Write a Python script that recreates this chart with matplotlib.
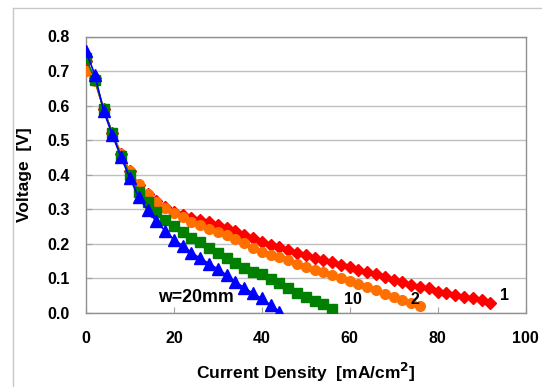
import matplotlib
matplotlib.use("Agg")
import matplotlib.pyplot as plt
from matplotlib.lines import Line2D

plt.rcParams['font.family'] = ['Liberation Sans', 'DejaVu Sans']

x_w1 = [0, 2, 4, 6, 8, 10, 12, 14, 16, 18, 20, 22, 24, 26, 28, 30, 32, 34, 36, 38,
        40, 42, 44, 46, 48, 50, 52, 54, 56, 58, 60, 62, 64, 66, 68, 70, 72, 74, 76,
        78, 80, 82, 84, 86, 88, 90, 92]
v_w1 = [0.728, 0.68, 0.59, 0.52, 0.46, 0.41, 0.37, 0.345, 0.325, 0.307, 0.293, 0.283,
        0.275, 0.268, 0.262, 0.254, 0.245, 0.236, 0.225, 0.216, 0.206, 0.197, 0.191,
        0.182, 0.174, 0.167, 0.158, 0.153, 0.147, 0.139, 0.133, 0.124, 0.119, 0.114,
        0.104, 0.096, 0.091, 0.082, 0.076, 0.071, 0.062, 0.058, 0.052, 0.047, 0.042,
        0.038, 0.030]

x_w2 = [0, 2, 4, 6, 8, 10, 12, 14, 16, 18, 20, 22, 24, 26, 28, 30, 32, 34, 36, 38,
        40, 42, 44, 46, 48, 50, 52, 54, 56, 58, 60, 62, 64, 66, 68, 70, 72, 74, 76]
v_w2 = [0.70, 0.67, 0.59, 0.52, 0.46, 0.41, 0.373, 0.345, 0.322, 0.303, 0.288, 0.277,
        0.264, 0.254, 0.244, 0.234, 0.225, 0.215, 0.202, 0.188, 0.177, 0.168, 0.161,
        0.152, 0.143, 0.134, 0.125, 0.118, 0.109, 0.100, 0.094, 0.085, 0.076, 0.066,
        0.056, 0.047, 0.038, 0.028, 0.020]

x_w10 = [0, 2, 4, 6, 8, 10, 12, 14, 16, 18, 20, 22, 24, 26, 28, 30, 32, 34, 36, 38,
         40, 42, 44, 46, 48, 50, 52, 54, 56]
v_w10 = [0.738, 0.675, 0.59, 0.52, 0.453, 0.40, 0.35, 0.32, 0.293, 0.27, 0.252, 0.234,
         0.218, 0.204, 0.188, 0.173, 0.158, 0.145, 0.131, 0.12, 0.112, 0.099, 0.086,
         0.072, 0.058, 0.046, 0.036, 0.026, 0.012]

x_w20 = [0, 2, 4, 6, 8, 10, 12, 14, 16, 18, 20, 22, 24, 26, 28, 30, 32, 34, 36, 38,
         40, 42, 44]
v_w20 = [0.757, 0.69, 0.585, 0.515, 0.45, 0.39, 0.335, 0.298, 0.265, 0.238, 0.212,
         0.195, 0.175, 0.158, 0.143, 0.127, 0.11, 0.09, 0.073, 0.057, 0.042, 0.023,
         0.004]

labels = ["1", "2", "10", "w=20mm"]
label_pos = [(94.3, 0.052), (73.8, 0.040), (58.6, 0.040), (16.5, 0.046)]
label_sizes = [11.5, 11.5, 11.5, 12.8]
x_ticks = [0, 20, 40, 60, 80, 100]
y_ticks = [0.0, 0.1, 0.2, 0.3, 0.4, 0.5, 0.6, 0.7, 0.8]

fig = plt.figure(figsize=(5.42, 3.87), dpi=100)
ax = fig.add_axes([86/542, 1-313/387, (525.5-86)/542, (313-36.5)/387])

ms = 7
ax.plot(x_w1, v_w1, color='#ff0000', marker='D', markersize=ms*0.9, lw=1.2, zorder=3)
ax.plot(x_w2, v_w2, color='#ff7000', marker='o', markersize=ms, lw=1.2, zorder=4)
ax.plot(x_w10, v_w10, color='#008000', marker='s', markersize=ms*0.95, lw=1.2, zorder=5)
ax.plot(x_w20, v_w20, color='#0000ff', marker='^', markersize=ms*1.15, lw=1.2, zorder=6)

for lab, (px, py), fs in zip(labels, label_pos, label_sizes):
    ax.text(px, py, lab, fontsize=fs, fontweight='bold', ha='left', va='center', zorder=7)

ax.set_xlim(0, 100)
ax.set_ylim(0, 0.8)
ax.set_xticks(x_ticks)
ax.set_yticks(y_ticks)
ax.set_yticklabels([f"{v:.1f}" for v in y_ticks])
ax.tick_params(axis='both', direction='in', length=4, color='#a0a0a0', labelsize=11.5)
ax.tick_params(axis='x', pad=13)
ax.tick_params(axis='y', pad=12)
for lab in ax.get_xticklabels() + ax.get_yticklabels():
    lab.set_fontweight('bold')
ax.yaxis.grid(True, color='#c0c0c0', lw=1)
ax.set_axisbelow(True)
for s in ax.spines.values():
    s.set_color('#909090')
    s.set_linewidth(1)

ax.set_xlabel("Current Density  [mA/cm$^\\mathbf{2}$]", fontsize=12.5, fontweight='bold', labelpad=11)
ax.set_ylabel("Voltage  [V]", fontsize=12.5, fontweight='bold', labelpad=11)

fig.add_artist(Line2D([12.7/542, 12.7/542], [0, 1-8.3/387], transform=fig.transFigure, color='#c8c8c8', lw=1))
fig.add_artist(Line2D([12.7/542, 1], [1-8.3/387, 1-8.3/387], transform=fig.transFigure, color='#c8c8c8', lw=1))

fig.savefig("out.png", dpi=100)
